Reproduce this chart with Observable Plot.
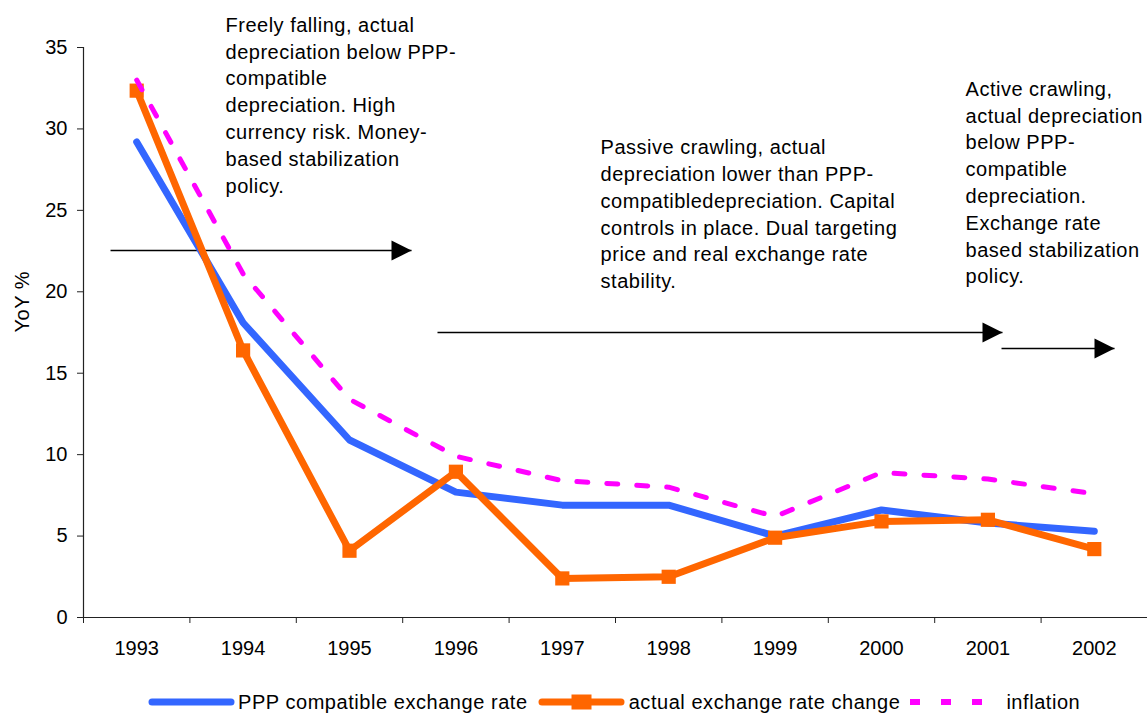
<!DOCTYPE html>
<html>
<head>
<meta charset="utf-8">
<script src="https://cdn.jsdelivr.net/npm/d3@7"></script>
<script src="https://cdn.jsdelivr.net/npm/@observablehq/plot@0.6"></script>
<style>
  html, body { margin: 0; padding: 0; background: #fff; }
  body { width: 1147px; height: 715px; overflow: hidden; font-family: "Liberation Sans", Arial, sans-serif; }
  #chart svg g[aria-label="text"] text { letter-spacing: 0.5px; }
  #legend { height: 44px; display: flex; align-items: center; font-size: 20px; letter-spacing: 0.55px; color: #000; }
  #legend .item { display: flex; align-items: center; }
  #legend svg { display: block; }
</style>
</head>
<body>
<div id="chart"></div>
<div id="legend"></div>
<script>
// ---- data ----
const years = [1993, 1994, 1995, 1996, 1997, 1998, 1999, 2000, 2001, 2002];
const ppp = [29.2, 18.1, 10.9, 7.7, 6.9, 6.9, 5.0, 6.6, 5.8, 5.3];
const actual = [32.35, 16.4, 4.1, 8.95, 2.4, 2.5, 4.9, 5.9, 6.0, 4.2];
const inflation = [33.0, 21.1, 13.4, 9.9, 8.4, 8.0, 6.2, 8.9, 8.5, 7.6];
const yTicks = [0, 5, 10, 15, 20, 25, 30, 35];
const seriesNames = ["PPP compatible exchange rate", "actual exchange rate change", "inflation"];

// annotation texts and their anchor positions (data coordinates)
const notes = [
  "Freely falling, actual\ndepreciation below PPP-\ncompatible\ndepreciation. High\ncurrency risk. Money-\nbased stabilization\npolicy.",
  "Passive crawling, actual\ndepreciation lower than PPP-\ncompatibledepreciation. Capital\ncontrols in place. Dual targeting\nprice and real exchange rate\nstability.",
  "Active crawling,\nactual depreciation\nbelow PPP-\ncompatible\ndepreciation.\nExchange rate\nbased stabilization\npolicy."
];
const noteX = [1993.835, 1997.36, 2000.79];
const noteY = [37.13, 29.62, 33.2];

// regime arrows (data coordinates)
const arrowX1 = [1992.754, 1995.827, 2001.128];
const arrowX2 = [1995.583, 2001.137, 2002.19];
const arrowY = [22.53, 17.5, 16.52];

// ---- build tables ----
const rows = (vals) => years.map((y, i) => ({year: y, value: vals[i]}));
const pppRows = rows(ppp), actualRows = rows(actual), inflRows = rows(inflation);
const noteRows = notes.map((t, i) => ({text: t, x: noteX[i], y: noteY[i]}));
const arrowRows = arrowX1.map((x1, i) => ({x1, x2: arrowX2[i], y: arrowY[i]}));
const halfTicks = d3.range(years[0] - 0.5, years[years.length - 1] + 1, 1);

const colors = {ppp: "#3366FF", actual: "#FF6600", infl: "#FF00FF"};

const arrowHead = {
  draw(ctx) {
    ctx.moveTo(0, 0);
    ctx.lineTo(-20, -10);
    ctx.lineTo(-20, 10);
    ctx.closePath();
  }
};

const chart = Plot.plot({
  width: 1147,
  height: 680,
  marginLeft: 83,
  marginRight: 0,
  marginTop: 47,
  marginBottom: 63,
  style: {fontFamily: "'Liberation Sans', Arial, sans-serif", fontSize: "20px", background: "#fff", color: "#000"},
  x: {domain: [years[0] - 0.5, years[years.length - 1] + 0.5]},
  y: {domain: [0, 35]},
  marks: [
    Plot.axisX({ticks: years, tickSize: 0, tickPadding: 23, tickFormat: d => String(d), fontSize: 20, label: null}),
    Plot.axisX({ticks: halfTicks, tickSize: 6, tickFormat: () => "", label: null, stroke: "#222"}),
    Plot.axisY({ticks: yTicks, tickSize: 6, tickPadding: 10, fontSize: 20, label: null, stroke: "#222"}),
    Plot.ruleY([0], {stroke: "#222", strokeWidth: 1.2}),
    Plot.ruleX([years[0] - 0.5], {y1: 0, y2: 35, stroke: "#222", strokeWidth: 1.2}),
    Plot.text(["YoY %"], {frameAnchor: "left", dx: -61, rotate: -90, fontSize: 20, fill: "#000"}),
    // regime arrows
    Plot.link(arrowRows, {x1: "x1", x2: "x2", y1: "y", y2: "y", stroke: "#000", strokeWidth: 1.5}),
    Plot.dot(arrowRows, {x: "x2", y: "y", symbol: arrowHead, fill: "#000", stroke: "none", r: 10}),
    // series
    Plot.line(pppRows, {x: "year", y: "value", stroke: colors.ppp, strokeWidth: 7, strokeLinecap: "round", strokeLinejoin: "round"}),
    Plot.line(actualRows, {x: "year", y: "value", stroke: colors.actual, strokeWidth: 7, strokeLinejoin: "round"}),
    Plot.dot(actualRows, {x: "year", y: "value", symbol: "square", r: 8, fill: colors.actual, stroke: "none"}),
    Plot.line(inflRows, {x: "year", y: "value", stroke: colors.infl, strokeWidth: 5, strokeDasharray: "11,19"}),
    // annotations
    Plot.text(noteRows, {x: "x", y: "y", text: "text", textAnchor: "start", lineAnchor: "top", lineHeight: 1.34, fontSize: 20, fill: "#000", clip: false})
  ]
});
document.getElementById("chart").appendChild(chart);

// ---- legend ----
const legend = document.getElementById("legend");
const ns = "http://www.w3.org/2000/svg";
function swatch(kind, w) {
  const s = document.createElementNS(ns, "svg");
  s.setAttribute("width", w); s.setAttribute("height", 20);
  const l = document.createElementNS(ns, "line");
  l.setAttribute("y1", 10); l.setAttribute("y2", 10);
  if (kind === "ppp") {
    l.setAttribute("x1", 4); l.setAttribute("x2", w - 4);
    l.setAttribute("stroke", colors.ppp); l.setAttribute("stroke-width", 7); l.setAttribute("stroke-linecap", "round");
    s.appendChild(l);
  } else if (kind === "actual") {
    l.setAttribute("x1", 4); l.setAttribute("x2", w - 4);
    l.setAttribute("stroke", colors.actual); l.setAttribute("stroke-width", 7); l.setAttribute("stroke-linecap", "round");
    s.appendChild(l);
    const r = document.createElementNS(ns, "rect");
    r.setAttribute("x", w / 2 - 10); r.setAttribute("y", 2.5); r.setAttribute("width", 20); r.setAttribute("height", 15);
    r.setAttribute("fill", colors.actual);
    s.appendChild(r);
  } else {
    l.setAttribute("x1", 0); l.setAttribute("x2", w);
    l.setAttribute("stroke", colors.infl); l.setAttribute("stroke-width", 6); l.setAttribute("stroke-dasharray", "10,21");
    s.appendChild(l);
  }
  return s;
}
const items = [
  {kind: "ppp", w: 87, left: 148, gap: 3},
  {kind: "actual", w: 87, left: 0, gap: 4},
  {kind: "infl", w: 80, left: 0, gap: 16}
];
items.forEach((it, i) => {
  const d = document.createElement("div");
  d.className = "item";
  d.style.marginLeft = (i === 0 ? it.left : 10) + "px";
  const sw = swatch(it.kind, it.w);
  sw.style.marginRight = it.gap + "px";
  d.appendChild(sw);
  const t = document.createElement("span");
  t.textContent = seriesNames[i];
  d.appendChild(t);
  legend.appendChild(d);
});
</script>
</body>
</html>
